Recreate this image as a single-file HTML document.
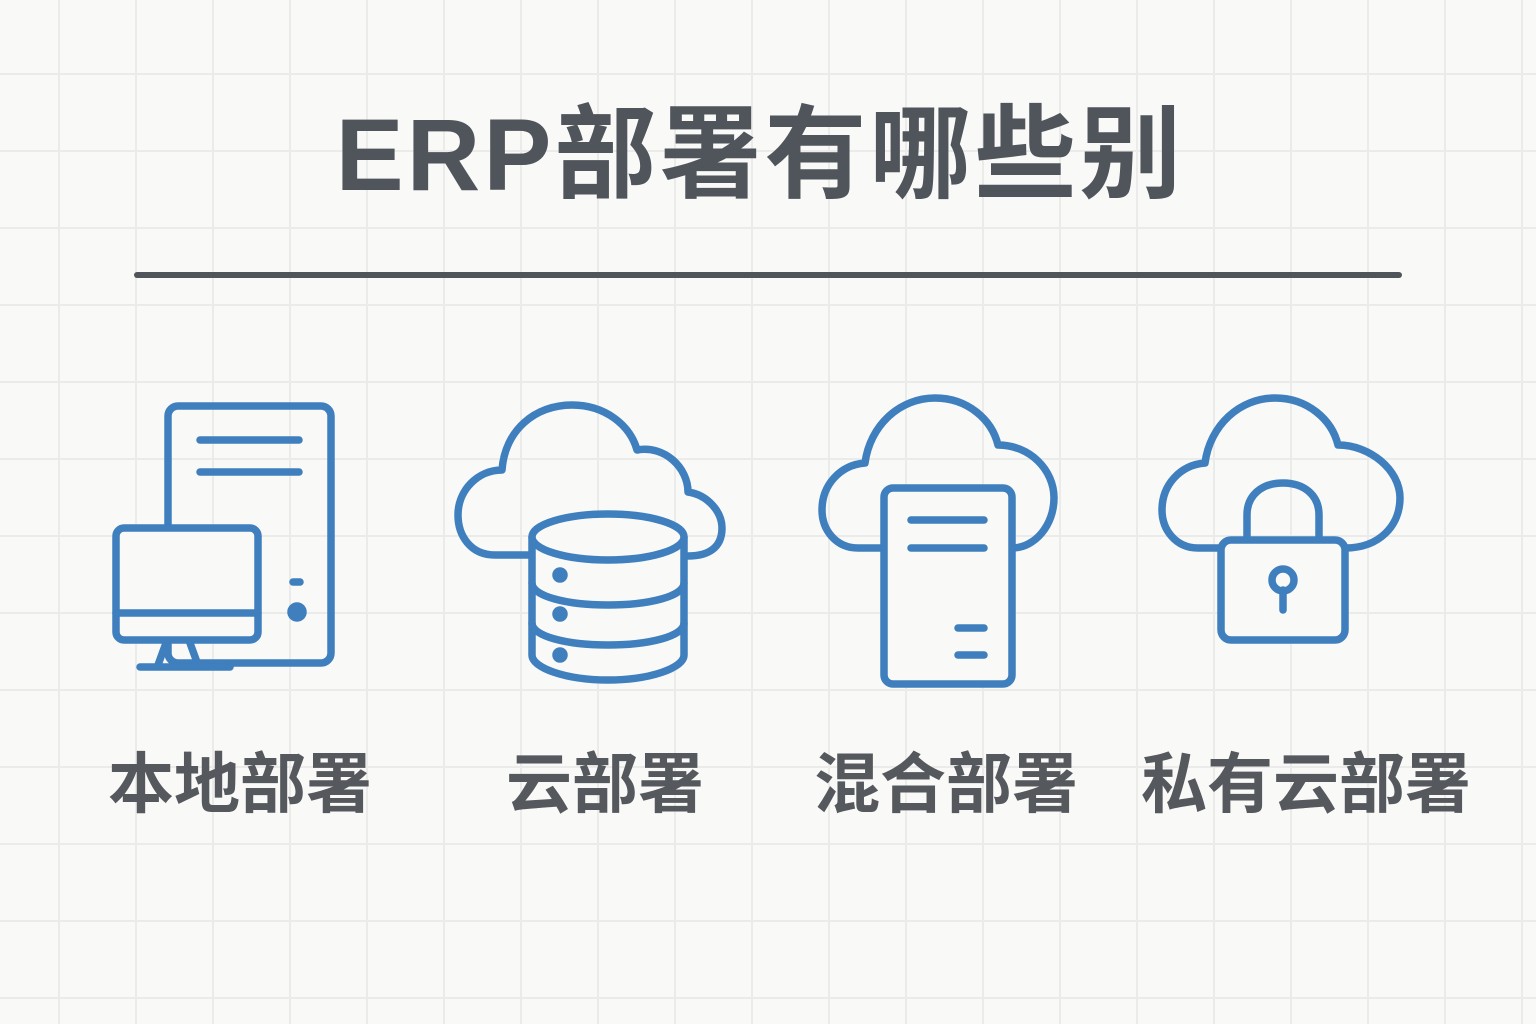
<!DOCTYPE html>
<html><head><meta charset="utf-8"><style>
html,body{margin:0;padding:0}
body{width:1536px;height:1024px;background:#f9f9f8;position:relative;overflow:hidden;
background-image:linear-gradient(#ebebea 2px,transparent 2px),linear-gradient(90deg,#ebebea 2px,transparent 2px);
background-size:77px 77px;background-position:58px 73px;font-family:"Liberation Sans","Noto Sans CJK SC",sans-serif}
.t{position:absolute;left:-8px;width:1536px;text-align:center;top:95px;font-size:102px;font-weight:bold;color:#50555b;line-height:120px;letter-spacing:3px}
.l{position:absolute;top:744px;font-size:66px;font-weight:bold;color:#55585c;line-height:80px;width:400px;text-align:center}
</style></head><body>
<div class="t">ERP部署有哪些别</div>
<div style="position:absolute;left:134px;top:272px;width:1268px;height:6px;border-radius:3px;background:#50555b"></div>
<svg width="1536" height="1024" style="position:absolute;left:0;top:0" fill="none" stroke="#3f7fbe" stroke-width="7.5" stroke-linecap="round" stroke-linejoin="round">
<rect x="168" y="406" width="163" height="257" rx="10"/>
<line x1="200" y1="440" x2="299" y2="440"/><line x1="200" y1="472" x2="299" y2="472"/>
<line x1="293" y1="582" x2="300" y2="582"/><circle cx="297" cy="612" r="6" fill="#3f7fbe"/>
<rect x="116" y="528" width="142" height="112" rx="8" fill="#f9f9f8"/>
<line x1="116" y1="613" x2="258" y2="613"/>
<path d="M166 643 L158 665 M190 643 L198 665 M140 667 L230 667"/>
<path d="M532 555 H495 C470 555 458 535 458 515 C458 490 478 470 502 470 C505 430 535 405 572 405 C605 405 630 425 637 450 C665 445 688 468 688 492 C708 495 722 512 722 528 C722 548 708 556 688 556"/>
<path d="M532 537 V655 C532 668 566 680 608 680 C650 680 684 668 684 655 V537" fill="#f9f9f8"/>
<ellipse cx="608" cy="537" rx="76" ry="23" fill="#f9f9f8"/>
<path d="M532 583 C532 596 566 605 608 605 C650 605 684 596 684 583 M532 623 C532 636 566 645 608 645 C650 645 684 636 684 623"/>
<circle cx="560" cy="575" r="4" fill="#3f7fbe"/><circle cx="560" cy="614" r="4" fill="#3f7fbe"/><circle cx="560" cy="655" r="4" fill="#3f7fbe"/>
<path d="M884 548 H858 C836 548 822 530 822 510 C822 485 840 465 865 463 C870 425 900 398 935 398 C968 398 992 420 998 445 C1030 445 1054 470 1054 498 C1054 525 1035 548 1012 548"/>
<rect x="884" y="488" width="128" height="196" rx="9" fill="#f9f9f8"/>
<line x1="911" y1="520" x2="984" y2="520"/><line x1="911" y1="548" x2="984" y2="548"/>
<line x1="958" y1="628" x2="984" y2="628"/><line x1="958" y1="655" x2="984" y2="655"/>
<path d="M1222 548 H1198 C1176 548 1162 530 1162 510 C1162 485 1180 465 1205 463 C1210 425 1240 398 1275 398 C1308 398 1332 420 1338 445 C1370 445 1400 470 1400 498 C1400 525 1380 548 1345 548"/>
<path d="M1247 540 V515 C1247 495 1262 483 1283 483 C1304 483 1319 495 1319 515 V540"/>
<rect x="1221" y="540" width="124" height="100" rx="10" fill="#f9f9f8"/>
<circle cx="1283" cy="580" r="11"/><line x1="1283" y1="590" x2="1283" y2="610"/>
</svg>
<div class="l" style="left:40px">本地部署</div>
<div class="l" style="left:405px">云部署</div>
<div class="l" style="left:746px">混合部署</div>
<div class="l" style="left:1106px">私有云部署</div>
</body></html>
